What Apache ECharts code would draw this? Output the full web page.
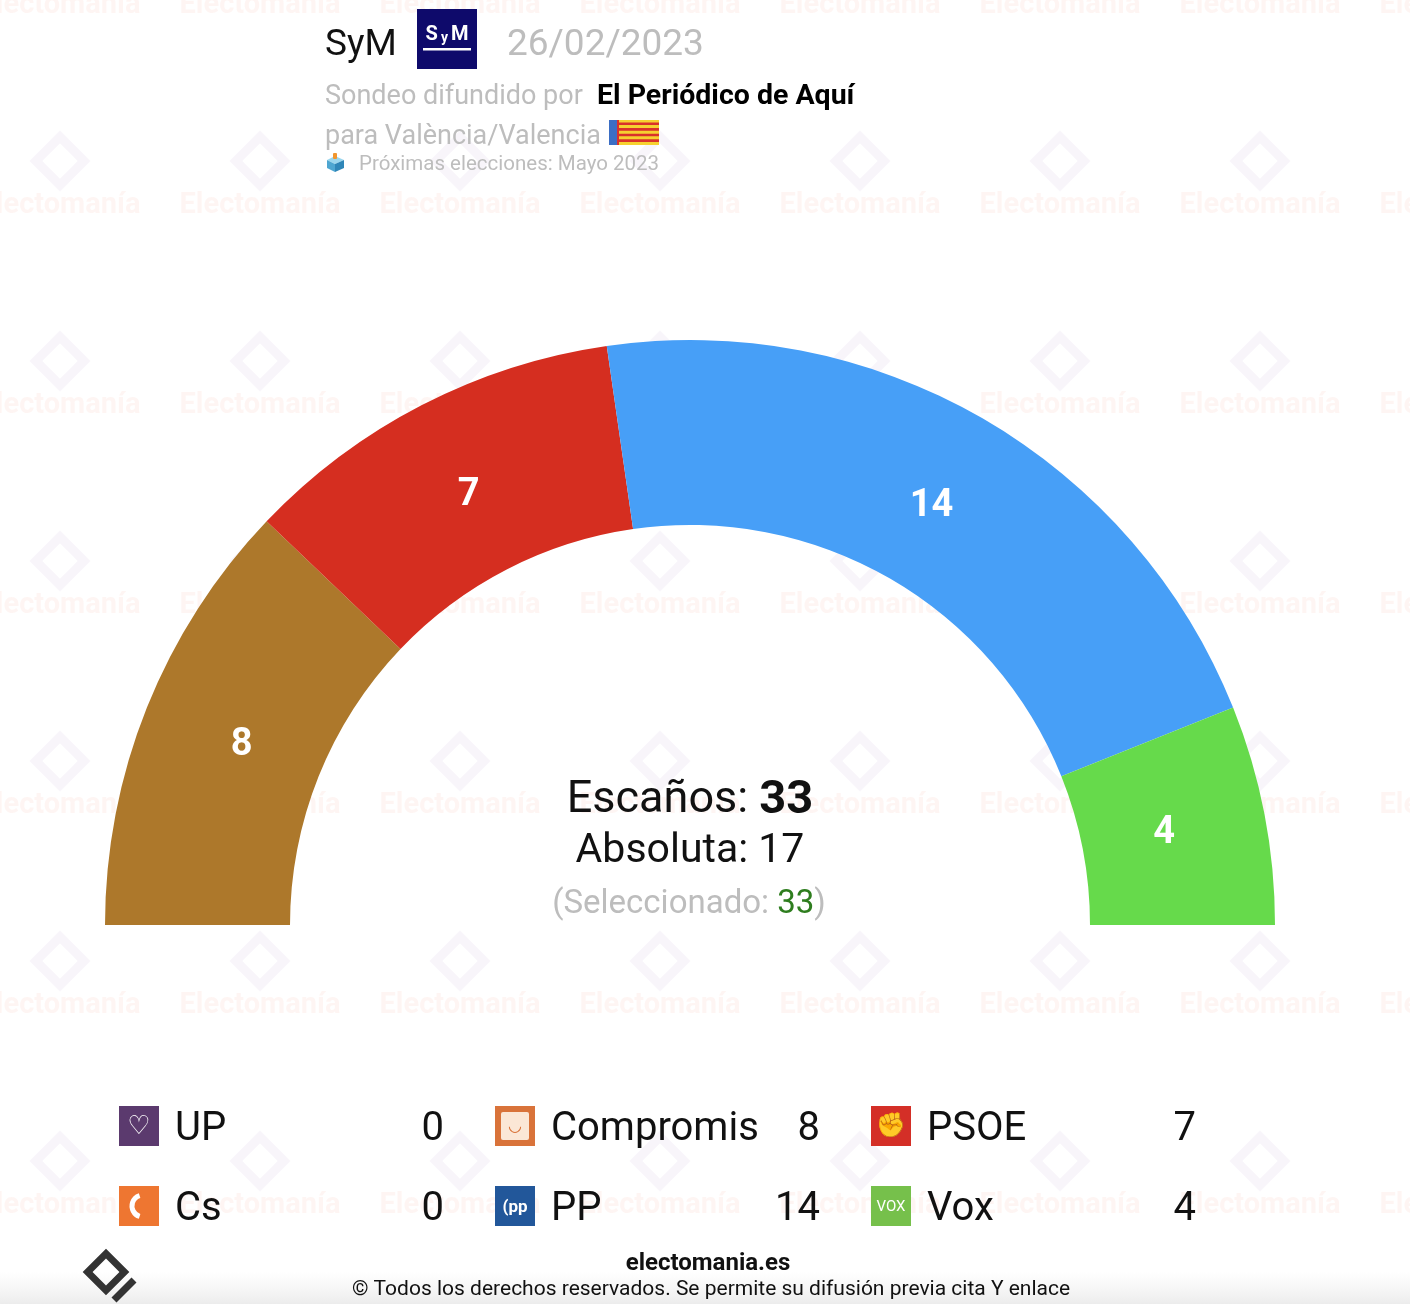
<!DOCTYPE html>
<html>
<head>
<meta charset="utf-8">
<script src="https://cdn.jsdelivr.net/npm/echarts@6/dist/echarts.min.js"></script>
<style>
html,body{margin:0;padding:0;background:#fff;}
#c{width:1410px;height:1304px;}
</style>
</head>
<body>
<div id="c"></div>
<script>
// ---- data ----
const parties = ['UP', 'Compromis', 'PSOE', 'Cs', 'PP', 'Vox'];
const seats = [0, 8, 7, 0, 14, 4];
const partyColors = ['#5B3A6E', '#AD782B', '#D52E20', '#EE7631', '#479FF7', '#66DA4B'];
const iconColors = ['#5B3A6E', '#D9733A', '#D42F27', '#EE7631', '#22579A', '#76C04B'];
const hemicycleOrder = ['Compromis', 'PSOE', 'PP', 'Vox'];
const totalSeats = 33;
const majority = 17;
const selected = 33;

const FONT = 'Roboto, "Noto Sans", sans-serif';
const chart = echarts.init(document.getElementById('c'));

const pieData = hemicycleOrder.map(n => {
  const i = parties.indexOf(n);
  return { name: n, value: seats[i], itemStyle: { color: partyColors[i] } };
});
const labelData = hemicycleOrder.map(n => {
  const i = parties.indexOf(n);
  return { name: n, value: seats[i] };
});

const graphics = [];

// watermark
for (let r = 0; r < 7; r++) {
  for (let c = 0; c < 8; c++) {
    const cx = 60 + c * 200, cy = 6 + r * 200;
    graphics.push({
      type: 'text', silent: true, z: 0,
      style: { x: cx, y: cy, text: 'Electomanía', fill: 'rgba(236,120,90,0.07)',
        font: 'bold 29px ' + FONT, align: 'center', verticalAlign: 'middle' }
    });
    graphics.push({
      type: 'rect', silent: true, z: 0, x: cx, y: cy - 45, rotation: Math.PI / 4,
      shape: { x: -17, y: -17, width: 34, height: 34 },
      style: { fill: 'none', stroke: 'rgba(150,110,190,0.07)', lineWidth: 9 }
    });
  }
}

// header
graphics.push(
  { type: 'text', z: 10, style: { x: 325, y: 46, text: 'SyM', font: '37px ' + FONT, fill: '#111', verticalAlign: 'middle' } },
  { type: 'rect', z: 10, shape: { x: 417, y: 9, width: 60, height: 60 }, style: { fill: '#0E0A6B' } },
  { type: 'text', z: 11, style: { x: 447, y: 35, text: '{s|S}{y|y}{s|M}', align: 'center', verticalAlign: 'middle',
      rich: { s: { font: 'bold 20px ' + FONT, fill: '#fff', padding: [0, 2] }, y: { font: 'bold 14px ' + FONT, fill: '#fff', padding: [6, 1, 0, 1] } } } },
  { type: 'rect', z: 11, shape: { x: 423, y: 48, width: 48, height: 2.5 }, style: { fill: '#fff' } },
  { type: 'text', z: 10, style: { x: 507, y: 46, text: '26/02/2023', font: '37px ' + FONT, fill: '#BDBDBD', verticalAlign: 'middle' } },
  { type: 'text', z: 10, style: { x: 325, y: 97, text: 'Sondeo difundido por', font: '27px ' + FONT, fill: '#BDBDBD', verticalAlign: 'middle' } },
  { type: 'text', z: 10, style: { x: 597, y: 97, text: 'El Periódico de Aquí', font: 'bold 28.5px ' + FONT, fill: '#000', verticalAlign: 'middle' } },
  { type: 'text', z: 10, style: { x: 325, y: 137, text: 'para València/Valencia', font: '27px ' + FONT, fill: '#BDBDBD', verticalAlign: 'middle' } },
  { type: 'text', z: 10, style: { x: 359, y: 165, text: 'Próximas elecciones: Mayo 2023', font: '20.5px ' + FONT, fill: '#BDBDBD', verticalAlign: 'middle' } }
);
// flag
graphics.push({ type: 'rect', z: 10, shape: { x: 609, y: 120, width: 50, height: 25 }, style: { fill: '#F6D130' } });
for (let k = 0; k < 4; k++) {
  graphics.push({ type: 'rect', z: 11, shape: { x: 619, y: 122.5 + k * 5.6, width: 40, height: 2.6 }, style: { fill: '#D9312B' } });
}
graphics.push({ type: 'rect', z: 11, shape: { x: 609, y: 120, width: 10, height: 25 }, style: { fill: '#3B6EC4' } });
graphics.push({ type: 'rect', z: 12, shape: { x: 617, y: 120, width: 2, height: 25 }, style: { fill: '#D9312B' } });
// ballot box icon
graphics.push(
  { type: 'polygon', z: 10, shape: { points: [[327, 160], [335, 156], [344, 160], [335, 164]] }, style: { fill: '#9AD6EE' } },
  { type: 'polygon', z: 10, shape: { points: [[327, 160], [335, 164], [335, 172], [327, 168]] }, style: { fill: '#4EA6D1' } },
  { type: 'polygon', z: 10, shape: { points: [[335, 164], [344, 160], [344, 168], [335, 172]] }, style: { fill: '#2F86B8' } },
  { type: 'rect', z: 11, shape: { x: 333, y: 153, width: 4, height: 6, r: 1 }, style: { fill: '#F2962E' } }
);

// center text
graphics.push(
  { type: 'text', z: 10, style: { x: 690, y: 801, text: '{a|Escaños: }{b|' + totalSeats + '}', align: 'center', verticalAlign: 'middle',
      rich: { a: { font: '45px ' + FONT, fill: '#111' }, b: { font: 'bold 47px ' + FONT, fill: '#111' } } } },
  { type: 'text', z: 10, style: { x: 690, y: 852, text: 'Absoluta: ' + majority, font: '41px ' + FONT, fill: '#111', align: 'center', verticalAlign: 'middle' } },
  { type: 'text', z: 10, style: { x: 689, y: 905, text: '{a|(Seleccionado: }{b|' + selected + '}{a|)}', align: 'center', verticalAlign: 'middle',
      rich: { a: { font: '33px ' + FONT, fill: '#BDBDBD' }, b: { font: '33px ' + FONT, fill: '#2E7D1E' } } } }
);

// legend
const colX = [119, 495, 871];
const rowY = [1106, 1186];
parties.forEach((p, i) => {
  const col = i % 3, row = Math.floor(i / 3);
  const x = colX[col], y = rowY[row];
  graphics.push({ type: 'rect', z: 10, shape: { x: x, y: y, width: 40, height: 40 }, style: { fill: iconColors[i] } });
  graphics.push({ type: 'text', z: 10, style: { x: x + 56, y: y + 24, text: p, font: '40px ' + FONT, fill: '#111', verticalAlign: 'middle' } });
  graphics.push({ type: 'text', z: 10, style: { x: x + 325, y: y + 24, text: String(seats[i]), font: '40px ' + FONT, fill: '#111', align: 'right', verticalAlign: 'middle' } });
});
// icon glyphs
graphics.push(
  { type: 'text', z: 11, style: { x: 139, y: 1127, text: '♡', font: 'bold 26px "DejaVu Sans"', fill: '#fff', align: 'center', verticalAlign: 'middle' } },
  { type: 'rect', z: 11, shape: { x: 501, y: 1112, width: 28, height: 28, r: 2 }, style: { fill: '#FBE7D6' } },
  { type: 'text', z: 12, style: { x: 515, y: 1127, text: '◡', font: '16px "DejaVu Sans"', fill: '#D9733A', align: 'center', verticalAlign: 'middle' } },
  { type: 'text', z: 11, style: { x: 891, y: 1127, text: '✊', font: '24px "DejaVu Sans"', fill: '#fff', align: 'center', verticalAlign: 'middle' } },
  { type: 'arc', z: 11, shape: { cx: 143, cy: 1206, r: 11, startAngle: Math.PI * 0.6, endAngle: Math.PI * 1.4 }, style: { stroke: '#fff', lineWidth: 5, fill: 'none' } },
  { type: 'text', z: 11, style: { x: 515, y: 1208, text: '(pp', font: 'bold 17px ' + FONT, fill: '#fff', align: 'center', verticalAlign: 'middle' } },
  { type: 'text', z: 11, style: { x: 891, y: 1207, text: 'VOX', font: '15px ' + FONT, fill: '#fff', align: 'center', verticalAlign: 'middle' } }
);

// footer
graphics.push(
  { type: 'rect', z: 1, shape: { x: 0, y: 1272, width: 1410, height: 32 },
    style: { fill: new echarts.graphic.LinearGradient(0, 0, 0, 1, [{ offset: 0, color: 'rgba(240,240,240,0)' }, { offset: 1, color: '#ECECEC' }]) } },
  { type: 'text', z: 10, style: { x: 708, y: 1264, text: 'electomania.es', font: 'bold 24px ' + FONT, fill: '#111', align: 'center', verticalAlign: 'middle' } },
  { type: 'text', z: 10, style: { x: 711, y: 1290, text: '© Todos los derechos reservados. Se permite su difusión previa cita Y enlace', font: '21px ' + FONT, fill: '#111', align: 'center', verticalAlign: 'middle' } },
  { type: 'rect', z: 10, x: 106, y: 1272, rotation: Math.PI / 4, shape: { x: -13, y: -13, width: 26, height: 26 }, style: { fill: 'none', stroke: '#333', lineWidth: 7 } },
  { type: 'line', z: 10, shape: { x1: 114, y1: 1300, x2: 134, y2: 1280 }, style: { stroke: '#333', lineWidth: 7 } }
);

const labelStyle = {
  position: 'inside',
  formatter: '{c}',
  color: '#fff',
  fontSize: 38,
  fontWeight: 'bold',
  fontFamily: FONT
};

chart.setOption({
  animation: false,
  backgroundColor: '#fff',
  graphic: graphics,
  series: [{
    type: 'pie',
    center: [690, 925],
    radius: [400, 585],
    startAngle: 180,
    endAngle: 0,
    clockwise: true,
    z: 5,
    data: pieData,
    label: { show: false },
    labelLine: { show: false },
    itemStyle: { borderWidth: 0 },
    emphasis: { disabled: true }
  }, {
    type: 'pie',
    center: [690, 925],
    radius: [375, 585],
    startAngle: 180,
    endAngle: 0,
    clockwise: true,
    z: 6,
    silent: true,
    data: labelData,
    itemStyle: { color: 'rgba(0,0,0,0)', borderWidth: 0 },
    label: labelStyle,
    labelLine: { show: false },
    emphasis: { disabled: true }
  }]
});
</script>
</body>
</html>
